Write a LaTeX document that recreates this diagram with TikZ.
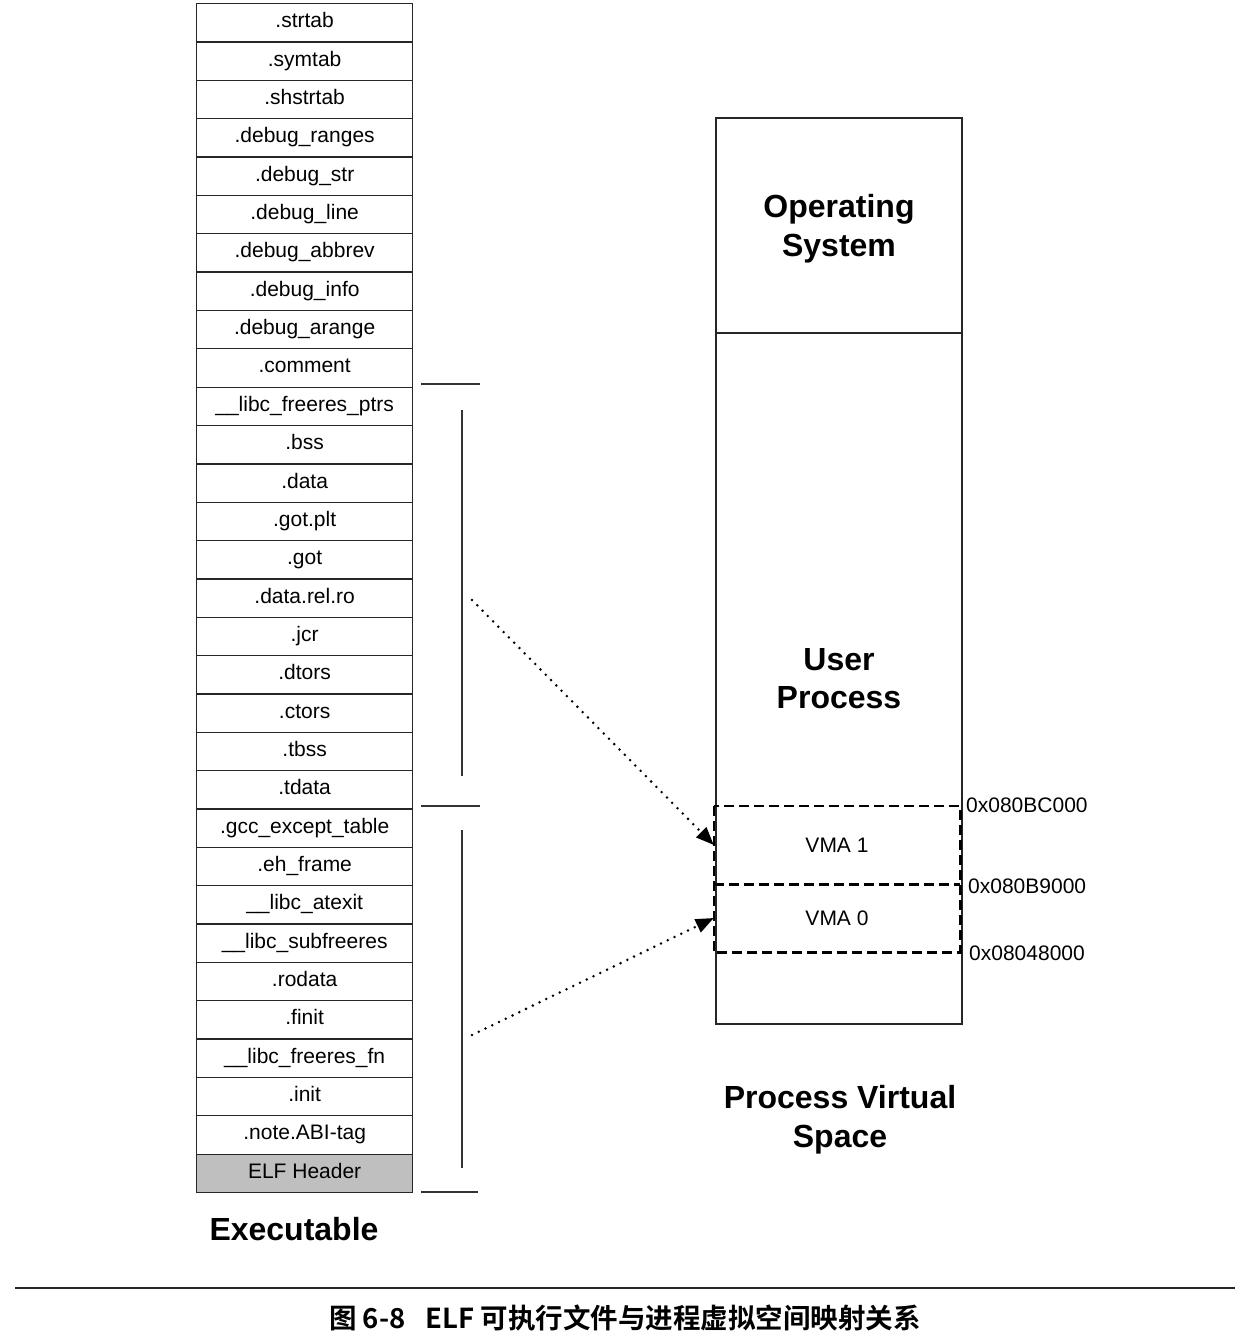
\documentclass[tikz,border=0pt]{standalone}
\usepackage{fontspec}
\setmainfont{Liberation Sans}
\newfontfamily\cjk{Noto Sans CJK SC}[BoldFont={Noto Sans CJK SC Bold}]
\usetikzlibrary{arrows.meta}
\begin{document}
\begin{tikzpicture}[x=1pt,y=-1pt,
  rowbox/.style={draw=black!85,line width=1.3pt,minimum width=216pt,minimum height=38.35pt,inner sep=0pt,text height=15pt,text depth=5pt,anchor=north west,font=\fontsize{21}{25}\selectfont},
  memblk/.style={draw=black!85,line width=1.3pt,minimum width=246pt,inner sep=0pt,align=center,font=\fontsize{32}{38}\selectfont\bfseries},
  vmablk/.style={minimum width=246pt,inner sep=0pt,font=\fontsize{21}{25}\selectfont},
  vmaline/.style={draw=black,line width=2.6pt,dash pattern=on 10pt off 5pt},
  addr/.style={anchor=west,inner sep=0pt,font=\fontsize{21}{25}\selectfont},
  bracket/.style={draw=black!80,line width=1.2pt},
  mapline/.style={draw=black,line width=2.8pt,line cap=round,dash pattern=on 0pt off 7.5pt,-{Triangle[length=18pt,width=14pt]}},
  bigtitle/.style={align=center,inner sep=0pt,font=\fontsize{32}{39}\selectfont\bfseries}]
\useasboundingbox (0,0) rectangle (1250,1344);
\fill[white] (0,0) rectangle (1250,1344);
% Executable sections
\foreach \t [count=\i] in {.strtab,.symtab,.shstrtab,.debug\_ranges,.debug\_str,.debug\_line,.debug\_abbrev,.debug\_info,.debug\_arange,.comment,\_\_libc\_freeres\_ptrs,.bss,.data,.got.plt,.got,.data.rel.ro,.jcr,.dtors,.ctors,.tbss,.tdata,.gcc\_except\_table,.eh\_frame,\_\_libc\_atexit,\_\_libc\_subfreeres,.rodata,.finit,\_\_libc\_freeres\_fn,.init,.note.ABI-tag}{
  \node[rowbox] (r\i) at (196,{3+(\i-1)*38.35}) {\t};
}
\node[rowbox,fill=black!25] (r31) at (196,{3+30*38.35}) {ELF Header};
\node[bigtitle] (exe) at (294,1229) {Executable};
% brackets
\coordinate (b1a) at (421,384); \coordinate (b1b) at (480,384);
\coordinate (b1c) at (462,410); \coordinate (b1d) at (462,776);
\coordinate (b2a) at (421,806); \coordinate (b2b) at (480,806);
\coordinate (b2c) at (462,830); \coordinate (b2d) at (462,1168);
\coordinate (b3a) at (421,1192); \coordinate (b3b) at (478,1192);
\draw[bracket] (b1a) -- (b1b);
\draw[bracket] (b1c) -- (b1d);
\draw[bracket] (b2a) -- (b2b);
\draw[bracket] (b2c) -- (b2d);
\draw[bracket] (b3a) -- (b3b);
% process virtual space
\node[memblk,minimum height=215pt] (os) at (839,225.5) {};
\node[bigtitle] (ostext) at (839,228.5) {Operating\\System};
\node[memblk,minimum height=691pt] (up) at (839,678.5) {User\\Process};
\node[vmablk,minimum height=78pt] (vma1) at (837,845) {VMA 1};
\node[vmablk,minimum height=68pt] (vma0) at (837,918) {VMA 0};
\draw[vmaline] (vma1.north west) rectangle (vma0.south east);
\draw[vmaline] (vma1.south west) -- (vma1.south east);
\node[addr] (a1) at (966,805) {0x080BC000};
\node[addr] (a2) at (968,886) {0x080B9000};
\node[addr] (a3) at (969,953) {0x08048000};
\node[bigtitle] (pvs) at (840,1120) {Process Virtual\\Space};
% mapping arrows
\coordinate (m1) at (472,600);
\coordinate (m0) at (472,1035);
\draw[mapline] (m1) -- (vma1.west);
\draw[mapline] (m0) -- (vma0.west);
% caption
\coordinate (rl) at (15,1288); \coordinate (rr) at (1235,1288);
\draw[line width=1.8pt,black!85] (rl) -- (rr);
\node[inner sep=0pt,font=\cjk\bfseries\fontsize{27.5}{32}\selectfont] (cap) at (625,1318) {图 6-8\hspace{20pt}ELF 可执行文件与进程虚拟空间映射关系};
\end{tikzpicture}
\end{document}
